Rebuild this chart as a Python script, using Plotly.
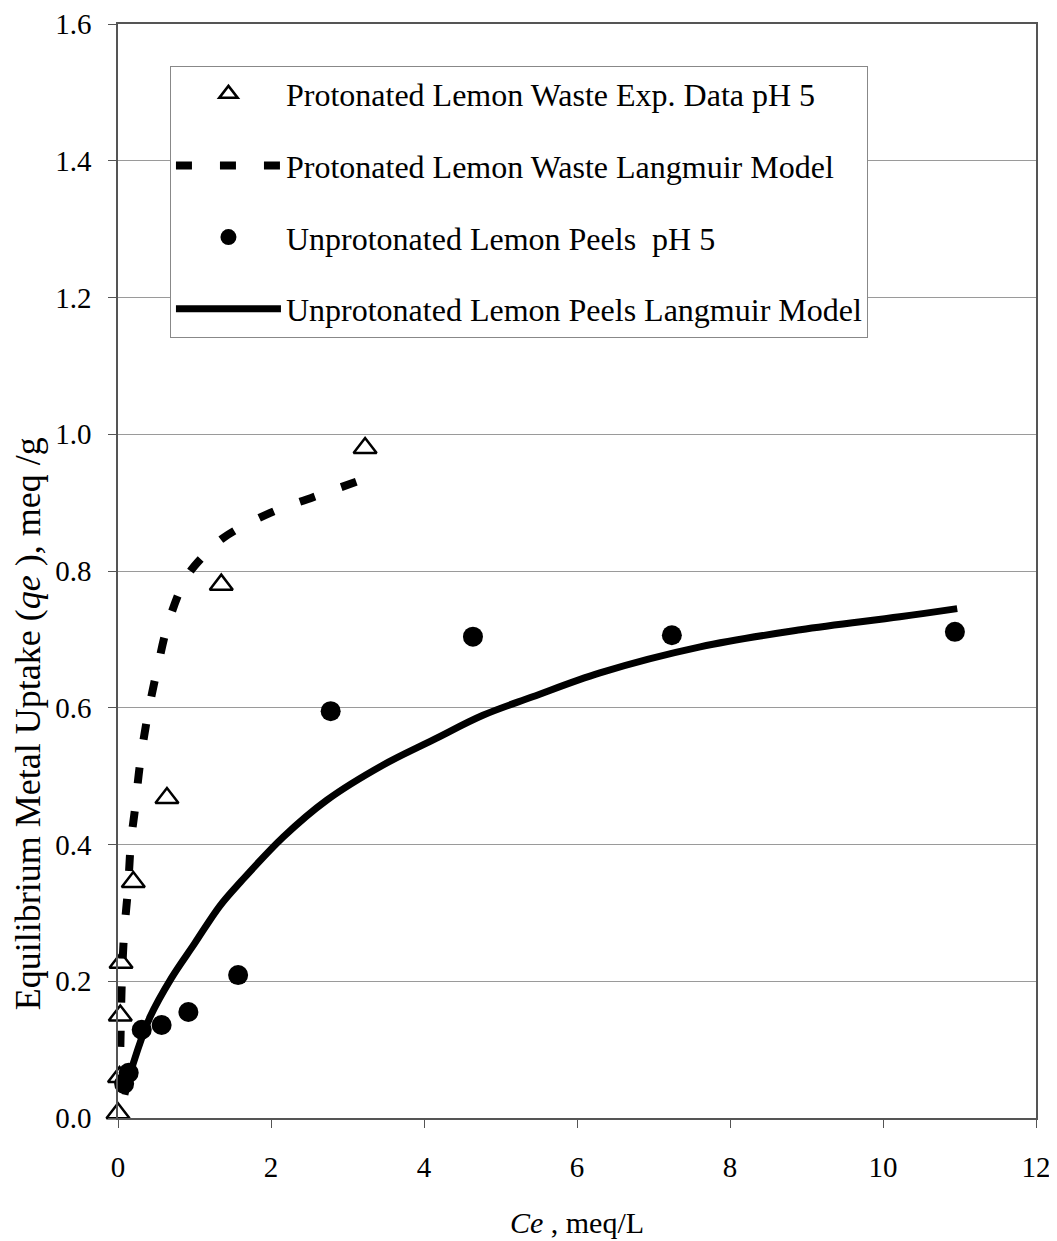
import plotly.graph_objects as go

# Experimental data: protonated lemon waste (pH 5)
prot_ce = [0.0, 0.02, 0.03, 0.04, 0.2, 0.64, 1.35, 3.23]
prot_qe = [0.007, 0.06, 0.15, 0.227, 0.345, 0.468, 0.78, 0.98]

# Langmuir model
prot_model_ce = [0.02, 0.03, 0.05, 0.08, 0.13, 0.17, 0.22, 0.29, 0.39, 0.51, 0.66, 0.89, 1.1, 1.37, 1.99, 2.55, 3.23]
prot_model_qe = [0.04, 0.10, 0.20, 0.27, 0.335, 0.405, 0.45, 0.52, 0.59, 0.655, 0.725, 0.79, 0.82, 0.848, 0.885, 0.908, 0.935]

# Experimental data: unprotonated lemon peels (pH 5)
unprot_ce = [0.08, 0.14, 0.31, 0.57, 0.92, 1.57, 2.78, 4.64, 7.24, 10.94]
unprot_qe = [0.05, 0.066, 0.129, 0.136, 0.155, 0.209, 0.595, 0.704, 0.706, 0.711]

# Langmuir model
unprot_model_ce = [0.09, 0.2, 0.42, 0.7, 1.0, 1.33, 1.6, 2.16, 2.73, 3.46, 4.12, 4.77, 5.42, 6.3, 7.61, 8.92, 10.22, 10.97]
unprot_model_qe = [0.034, 0.08, 0.148, 0.205, 0.255, 0.31, 0.345, 0.411, 0.465, 0.516, 0.553, 0.589, 0.616, 0.651, 0.689, 0.714, 0.733, 0.745]

x_ticks = [0, 2, 4, 6, 8, 10, 12]
y_ticks = [0.0, 0.2, 0.4, 0.6, 0.8, 1.0, 1.2, 1.4, 1.6]

FONT = "Liberation Serif, Times New Roman, serif"

fig = go.Figure()

fig.add_trace(go.Scatter(
    x=prot_ce, y=prot_qe, mode="markers",
    name="Protonated Lemon Waste Exp. Data pH 5",
    marker=dict(symbol="triangle-up-open", size=20, color="black", line=dict(width=2.5, color="black")),
    cliponaxis=False, legendgroup="a",
))
fig.add_trace(go.Scatter(
    x=prot_model_ce, y=prot_model_qe, mode="lines",
    name="Protonated Lemon Waste Langmuir Model",
    line=dict(color="black", width=8, dash="16px,28px", shape="spline"),
    cliponaxis=False, legendgroup="b",
))
fig.add_trace(go.Scatter(
    x=unprot_ce, y=unprot_qe, mode="markers",
    name="Unprotonated Lemon Peels  pH 5",
    marker=dict(symbol="circle", size=20, color="black"),
    cliponaxis=False, legendgroup="c",
))
fig.add_trace(go.Scatter(
    x=unprot_model_ce, y=unprot_model_qe, mode="lines",
    name="Unprotonated Lemon Peels Langmuir Model",
    line=dict(color="black", width=7, shape="spline"),
    cliponaxis=False, legendgroup="d",
))

fig.update_layout(
    width=1049, height=1233,
    margin=dict(l=110, r=21, t=16, b=123),
    paper_bgcolor="white", plot_bgcolor="white",
    font=dict(family=FONT, color="black", size=28),
    showlegend=True,
    legend=dict(
        x=0.0566, y=0.962, xanchor="left", yanchor="top",
        bgcolor="white", bordercolor="#888888", borderwidth=1,
        font=dict(family=FONT, size=32, color="black"),
        tracegroupgap=27, itemwidth=105, traceorder="grouped",
        itemsizing="trace",
    ),
    xaxis=dict(
        range=[0, 12], tickvals=x_ticks, ticktext=[str(v) for v in x_ticks],
        showgrid=False, zeroline=False, automargin=False,
        showline=True, linecolor="#555555", linewidth=1.5, mirror=True,
        ticks="outside", ticklen=8, tickcolor="#555555",
        ticklabelstandoff=14,
        tickfont=dict(family=FONT, size=29),
        title=dict(text="<i>Ce</i> , meq/L", font=dict(family=FONT, size=30), standoff=30),
    ),
    yaxis=dict(
        range=[0, 1.6], tickvals=y_ticks, ticktext=[f"{v:.1f}" for v in y_ticks],
        showgrid=True, gridcolor="#9a9a9a", gridwidth=1,
        zeroline=False, automargin=False,
        showline=True, linecolor="#555555", linewidth=1.5, mirror=True,
        ticks="outside", ticklen=8, tickcolor="#555555",
        ticklabelstandoff=11,
        tickfont=dict(family=FONT, size=29),
    ),
    annotations=[dict(
        text="Equilibrium Metal Uptake (<i>qe</i> ), meq /g",
        textangle=-90, xref="paper", yref="paper",
        x=-0.098, y=0.36, xanchor="center", yanchor="middle",
        showarrow=False, font=dict(family=FONT, size=36, color="black"),
    )],
)

fig.write_html("out.html")
